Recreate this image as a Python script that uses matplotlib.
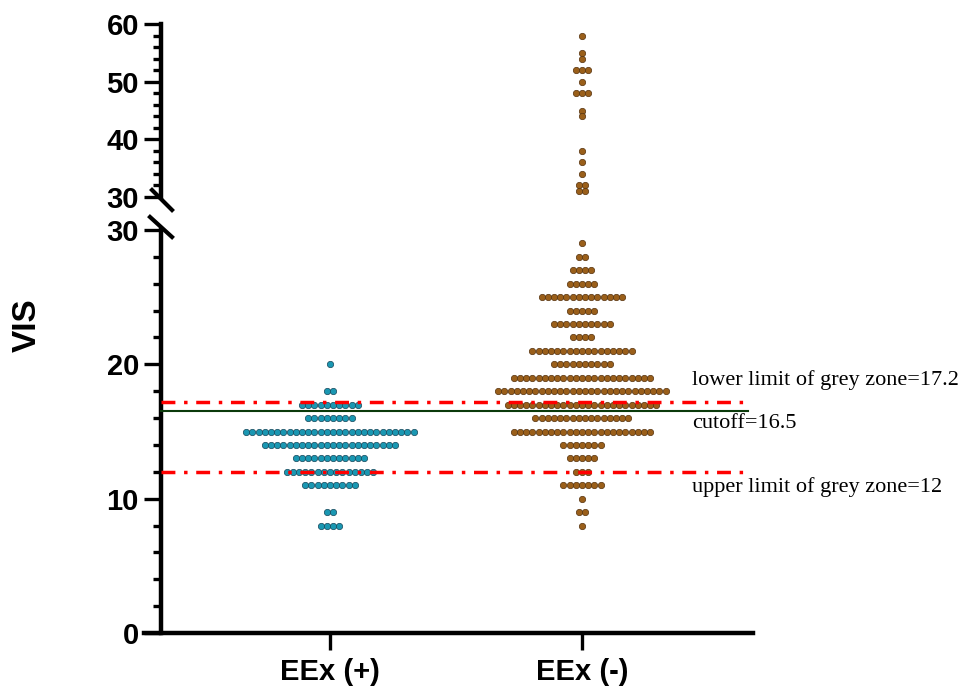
import numpy as np
import matplotlib
matplotlib.use('Agg')
import matplotlib.pyplot as plt
from matplotlib.ticker import MultipleLocator
from matplotlib.lines import Line2D

plt.rcParams['font.family'] = ['Liberation Sans', 'DejaVu Sans']

groups = ['EEx (+)', 'EEx (-)']

# value -> number of patients at that value
pos_vals = [20, 18, 17, 16, 15, 14, 13, 12, 11, 9, 8]
pos_counts = [1, 2, 10, 8, 28, 22, 12, 15, 9, 2, 4]

neg_vals = [58, 55, 54, 52, 50, 48, 45, 44, 38, 36, 34, 32, 31,
            29, 28, 27, 26, 25, 24, 23, 22, 21, 20, 19, 18, 17, 16,
            15, 14, 13, 12, 11, 10, 9, 8]
neg_counts = [1, 1, 1, 3, 1, 3, 1, 1, 1, 1, 1, 2, 2,
              1, 2, 4, 5, 14, 5, 10, 4, 17, 10, 23, 28, 25, 16,
              23, 7, 5, 3, 7, 1, 2, 1]

cutoff = 16.5
grey_low = 17.2
grey_high = 12

blue = '#1a97b2'
blue_edge = '#16465a'
brown = '#9a5f1a'
brown_edge = '#55320e'

fig = plt.figure(figsize=(9.66, 6.92), dpi=100)
W, H = 966, 692
left, right = 144 / W, 753 / W
ax_b = fig.add_axes([left, (H - 633) / H, right - left, (633 - 230) / H])
ax_t = fig.add_axes([left, (H - 197) / H, right - left, (197 - 24) / H])

xlim = (-0.738, 1.679)
spine_x = -0.67
dx = 0.0246

def rows(center, vals, counts):
    xs, ys = [], []
    for v, n in zip(vals, counts):
        for i in range(n):
            xs.append(center + (i - (n - 1) / 2) * dx)
            ys.append(v)
    return np.array(xs), np.array(ys)

xp, yp = rows(0, pos_vals, pos_counts)
xn, yn = rows(1, neg_vals, neg_counts)
top = yn > 30

ax_b.scatter(xp, yp, s=21, color=blue, edgecolor=blue_edge, linewidth=0.5, zorder=3, clip_on=False)
ax_b.scatter(xn[~top], yn[~top], s=21, color=brown, edgecolor=brown_edge, linewidth=0.5, zorder=3, clip_on=False)
ax_t.scatter(xn[top], yn[top], s=21, color=brown, edgecolor=brown_edge, linewidth=0.5, zorder=3, clip_on=False)

for ax, lo, hi in [(ax_b, 0, 30), (ax_t, 30, 60)]:
    ax.set_xlim(*xlim)
    ax.set_ylim(lo, hi)
    ax.patch.set_visible(False)
    for s in ['top', 'right']:
        ax.spines[s].set_visible(False)
    ax.spines['left'].set_position(('data', spine_x))
    ax.spines['left'].set_linewidth(3.2)
    ax.spines['bottom'].set_linewidth(3.2)
    ax.yaxis.set_major_locator(MultipleLocator(10))
    ax.yaxis.set_minor_locator(MultipleLocator(2))
    ax.tick_params(axis='y', which='major', length=12, width=2.4, labelsize=21, pad=4)
    ax.tick_params(axis='y', which='minor', length=6, width=2.4)
    for t in ax.get_yticklabels():
        t.set_fontweight('bold')

ax_t.spines['bottom'].set_visible(False)
ax_t.set_xticks([])

ax_b.set_xticks([0, 1])
ax_b.set_xticklabels(groups, fontsize=21, fontweight='bold')
ax_b.tick_params(axis='x', length=12, width=2.4, pad=6)

# reference lines
x_end = 1.66
ax_b.plot([spine_x, x_end], [grey_low, grey_low], color='red', lw=2.5,
          linestyle=(0, (4, 2.5, 1, 2.5)), dash_capstyle='butt', zorder=4)
ax_b.plot([spine_x, x_end], [grey_high, grey_high], color='red', lw=2.5,
          linestyle=(0, (4, 2.5, 1, 2.5)), dash_capstyle='butt', zorder=4)
ax_b.plot([spine_x, x_end], [cutoff, cutoff], color='#0b3a0b', lw=1.5, zorder=4)

serif = ['Liberation Serif', 'DejaVu Serif']
ax_b.text(1.437, 18.8, 'lower limit of grey zone=17.2', family=serif, fontsize=16,
          va='center', ha='left', clip_on=False)
ax_b.text(1.437, 15.6, 'cutoff=16.5', family=serif, fontsize=16,
          va='center', ha='left', clip_on=False)
ax_b.text(1.437, 10.9, 'upper limit of grey zone=12', family=serif, fontsize=16,
          va='center', ha='left', clip_on=False)

# axis break marks
fig.add_artist(Line2D([152 / W, 172 / W], [1 - 190 / H, 1 - 210 / H], color='black', lw=3))
fig.add_artist(Line2D([150 / W, 172 / W], [1 - 217 / H, 1 - 237 / H], color='black', lw=3))

fig.text(27 / W, 1 - 325 / H, 'VIS', rotation=90, ha='center', va='center',
         fontsize=24, fontweight='bold')

plt.savefig('out.png', dpi=100)
